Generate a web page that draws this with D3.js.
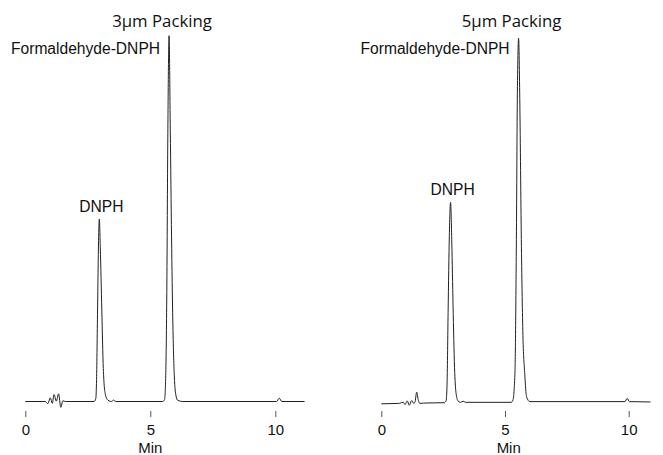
<!DOCTYPE html>
<html>
<head>
<meta charset="utf-8">
<script src="https://cdn.jsdelivr.net/npm/d3@7"></script>
<style>
  body { margin: 0; background: #fff; }
  svg text { font-family: "Liberation Sans", Arial, sans-serif; fill: #111; }
</style>
</head>
<body>
<div id="chart"></div>
<script>
// time (min)
var leftTime = [0, 0.8, 0.9, 1.0, 1.08, 1.15, 1.24, 1.33, 1.42, 1.5, 1.6,
  2.75, 2.82, 2.85, 2.89, 2.93, 2.96, 3.0, 3.06, 3.12, 3.2, 3.3, 3.45, 3.53, 3.62,
  5.5, 5.57, 5.62, 5.66, 5.70, 5.75, 5.80, 5.85, 5.90, 5.96, 6.03, 6.1, 6.3,
  10.05, 10.16, 10.26, 11.17];
// detector signal, arbitrary units (largest peak = 100)
var leftSignal = [0, 0, -0.6, 1.0, -0.5, 1.9, 0.1, 2.1, -1.6, 0.2, 0,
  0, 0.8, 6, 25, 44, 49.9, 42, 25, 9, 2, 0.4, 0, 0.4, 0,
  0, 0.5, 8, 30, 72, 100, 74, 45, 22, 7, 1.5, 0.3, 0,
  0, 0.9, 0, 0];

var rightTime = [0, 0.7, 0.82, 0.9, 0.96, 1.05, 1.13, 1.23, 1.3, 1.36, 1.43, 1.5, 1.56, 1.7,
  2.55, 2.62, 2.66, 2.70, 2.75, 2.80, 2.85, 2.90, 2.96, 3.02, 3.1, 3.2, 3.31, 3.4,
  5.25, 5.32, 5.40, 5.46, 5.50, 5.55, 5.60, 5.66, 5.72, 5.80, 5.87, 6.0,
  9.85, 9.94, 10.03, 10.88];
var rightSignal = [0, 0.1, 0.3, 0.4, -0.2, 0.8, -0.4, 0.9, 0.2, 0.4, 3.2, 0.9, 0.1, 0.2,
  0.3, 0.9, 6, 25, 46, 55.1, 44, 27, 10, 3, 0.8, 0.4, 0.7, 0.4,
  0.4, 1, 8, 45, 85, 100, 82, 45, 20, 8, 2, 0.6,
  0.6, 1.5, 0.6, 0.5];

var timeTicks = [0, 5, 10];
var titles = ["3µm Packing", "5µm Packing"];
var peakNames = ["DNPH", "Formaldehyde-DNPH"];
var leftPeaks = [2.96, 5.75];
var rightPeaks = [2.80, 5.55];

var width = 663, height = 455;
var svg = d3.select("#chart").append("svg")
  .attr("width", width)
  .attr("height", height);

var panels = [
  {title: titles[0], t: leftTime, v: leftSignal, peaks: leftPeaks,
   x0: 25.3, x10: 275.3, base: 401.5, top: 35.7, minAt: 5},
  {title: titles[1], t: rightTime, v: rightSignal, peaks: rightPeaks,
   x0: 381.3, x10: 628.7, base: 403.8, top: 38.3, minAt: 5.15}
];

panels.forEach(function(p){
  var x = d3.scaleLinear().domain([0, 10]).range([p.x0, p.x10]);
  var y = d3.scaleLinear().domain([0, 100]).range([p.base, p.top]);
  var pts = p.t.map(function(d, i){ return [d, p.v[i]]; });

  var line = d3.line()
    .x(function(d){ return x(d[0]); })
    .y(function(d){ return y(d[1]); })
    .curve(d3.curveMonotoneX);

  svg.append("path")
    .datum(pts)
    .attr("d", line)
    .attr("fill", "none")
    .attr("stroke", "#222")
    .attr("stroke-width", 1);

  // axis without domain line
  var ax = svg.append("g")
    .attr("transform", "translate(0," + 411 + ")")
    .call(d3.axisBottom(x).tickValues(timeTicks).tickSize(6).tickPadding(7).tickFormat(d3.format("d")));
  ax.select(".domain").remove();
  ax.selectAll(".tick line").attr("stroke", "#555");
  ax.selectAll("text")
    .style("font-size", "15px")
    .style("font-family", "'Liberation Sans', Arial, sans-serif")
    .attr("fill", "#111");

  svg.append("text")
    .attr("x", x(p.minAt))
    .attr("y", 453)
    .attr("text-anchor", "middle")
    .style("font-size", "15px")
    .text("Min");

  // panel title
  svg.append("text")
    .attr("x", x(p.peaks[1]) - 7)
    .attr("y", 27)
    .attr("text-anchor", "middle")
    .style("font-family", "'Open Sans', sans-serif")
    .style("font-size", "16.8px")
    .text(p.title);

  // peak labels
  var dn = p.v[p.t.indexOf(p.peaks[0])];
  svg.append("text")
    .attr("x", x(p.peaks[0]) + 2)
    .attr("y", y(dn) - 7)
    .attr("text-anchor", "middle")
    .style("font-size", "15.6px")
    .text(peakNames[0]);

  svg.append("text")
    .attr("x", x(p.peaks[1]) - 9)
    .attr("y", 54)
    .attr("text-anchor", "end")
    .style("font-size", "15.6px")
    .text(peakNames[1]);
});
</script>
</body>
</html>
